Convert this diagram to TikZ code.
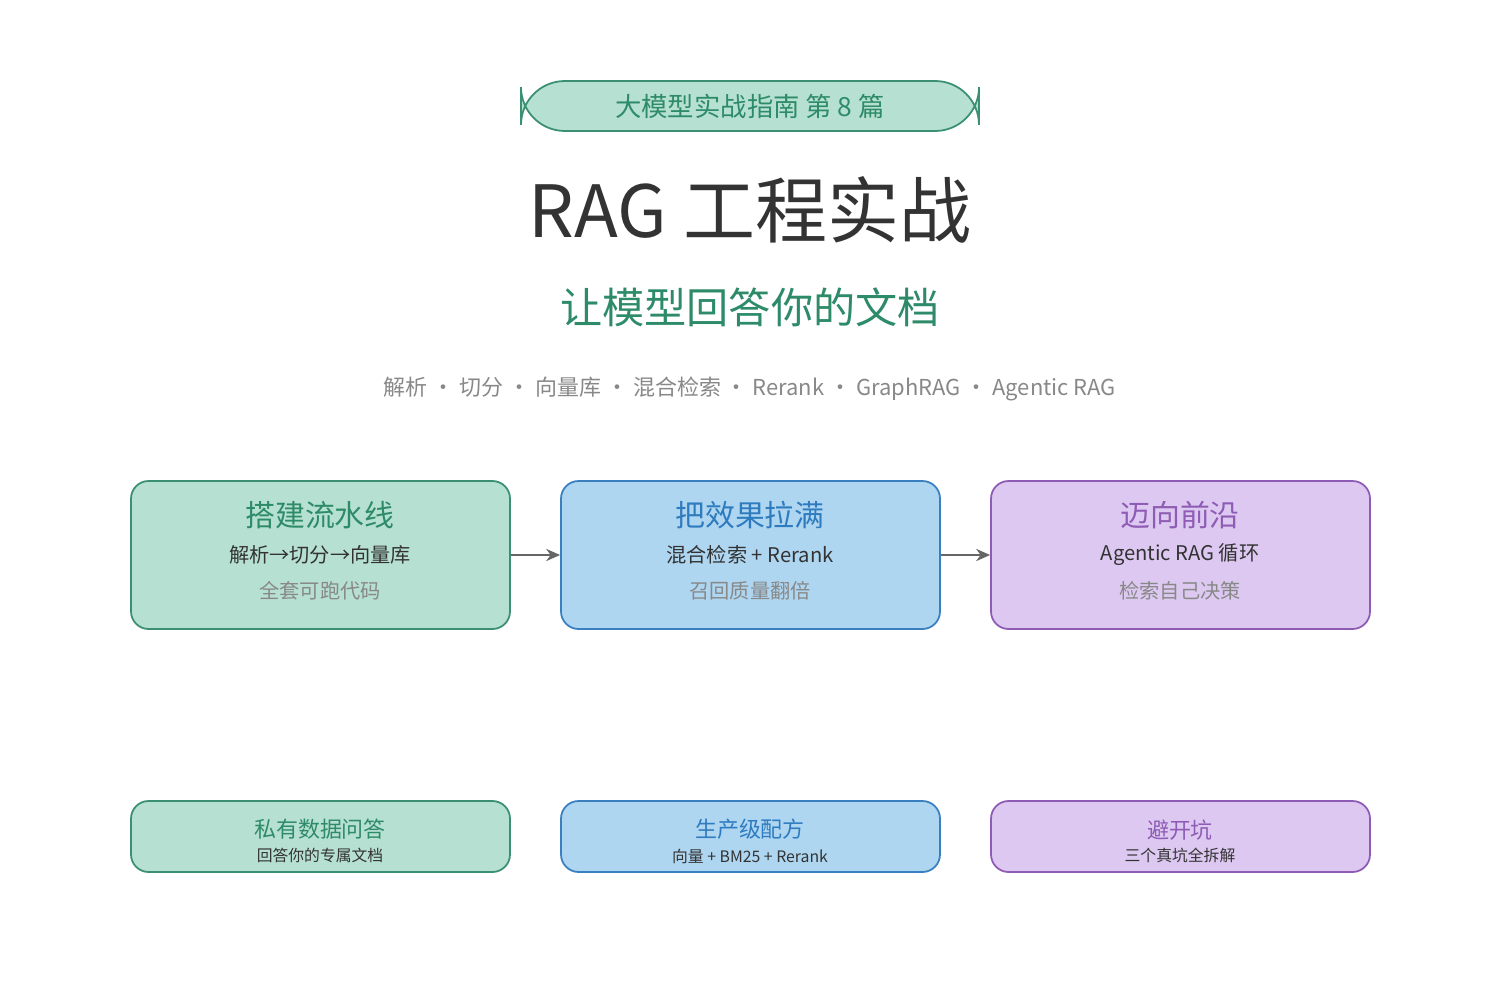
\documentclass[tikz,border=0pt]{standalone}
\usepackage{fontspec}
\setmainfont{Noto Sans CJK SC}
\usetikzlibrary{arrows.meta}
\definecolor{gfill}{HTML}{B6E0D2}\definecolor{gline}{HTML}{3A9070}\definecolor{gtext}{HTML}{2E8B6A}
\definecolor{bfill}{HTML}{AED6F1}\definecolor{bline}{HTML}{3A7FC0}\definecolor{btext}{HTML}{2E7BBF}
\definecolor{pfill}{HTML}{DCC8F0}\definecolor{pline}{HTML}{8E5BB5}\definecolor{ptext}{HTML}{8E5BB5}
\definecolor{dark}{HTML}{333333}\definecolor{soft}{HTML}{888888}
\newcommand{\fs}[1]{\fontsize{#1}{#1}\selectfont}
\begin{document}
\begin{tikzpicture}[x=0.02cm,y=-0.02cm]
	\tikzstyle{card}=[rectangle,rounded corners=10,line width=1pt,minimum width=379*0.02cm,inner sep=0pt]
	\tikzstyle{big}=[card,minimum height=148*0.02cm]
	\tikzstyle{small}=[card,minimum height=71*0.02cm]
	\tikzstyle{flow}=[-{Stealth[length=8pt,width=7pt]},draw=black!60,line width=0.8pt]
	\useasboundingbox (0,0) rectangle (1500,1000);
	% header
	\node (badge) at (750,106) [rectangle,rounded corners=25,fill=gfill,draw=gline,line width=1pt,minimum width=458*0.02cm,minimum height=50*0.02cm,text=gtext] {\fs{15}大模型实战指南 第 8 篇};
	\node (title) at (750,210) [text=dark] {\fs{41}RAG 工程实战};
	\node (sub) at (750,307) [text=gtext] {\fs{24}让模型回答你的文档};
	\node (keys) at (750,389) [text=soft] {\fs{12.5}解析 · 切分 · 向量库 · 混合检索 · Rerank · GraphRAG · Agentic RAG};
	% stages
	\node (build) at (320.5,555) [big,fill=gfill,draw=gline] {};
	\node (boost) at (750.5,555) [big,fill=bfill,draw=bline] {};
	\node (front) at (1180.5,555) [big,fill=pfill,draw=pline] {};
	\node at (320,515) [text=gtext] {\fs{17}搭建流水线};
	\node at (320,555) [text=dark] {\fs{11.5}解析→切分→向量库};
	\node at (320,591) [text=soft] {\fs{11.5}全套可跑代码};
	\node at (750,515) [text=btext] {\fs{17}把效果拉满};
	\node at (750,555) [text=dark] {\fs{11.5}混合检索 + Rerank};
	\node at (750,591) [text=soft] {\fs{11.5}召回质量翻倍};
	\node at (1180,515) [text=ptext] {\fs{17}迈向前沿};
	\node at (1180,555) [text=dark] {\fs{11.5}Agentic RAG 循环};
	\node at (1180,591) [text=soft] {\fs{11.5}检索自己决策};
	\draw[flow] (build) -- (boost);
	\draw[flow] (boost) -- (front);
	% bottom row
	\node (qa) at (320.5,836.5) [small,fill=gfill,draw=gline] {};
	\node (prod) at (750.5,836.5) [small,fill=bfill,draw=bline] {};
	\node (pit) at (1180.5,836.5) [small,fill=pfill,draw=pline] {};
	\node at (320,829) [text=gtext] {\fs{12.5}私有数据问答};
	\node at (320,855) [text=dark] {\fs{9}回答你的专属文档};
	\node at (750,829) [text=btext] {\fs{12.5}生产级配方};
	\node at (750,856) [text=dark] {\fs{9}向量 + BM25 + Rerank};
	\node at (1180,830) [text=ptext] {\fs{12.5}避开坑};
	\node at (1180,855) [text=dark] {\fs{9}三个真坑全拆解};
\end{tikzpicture}
\end{document}
